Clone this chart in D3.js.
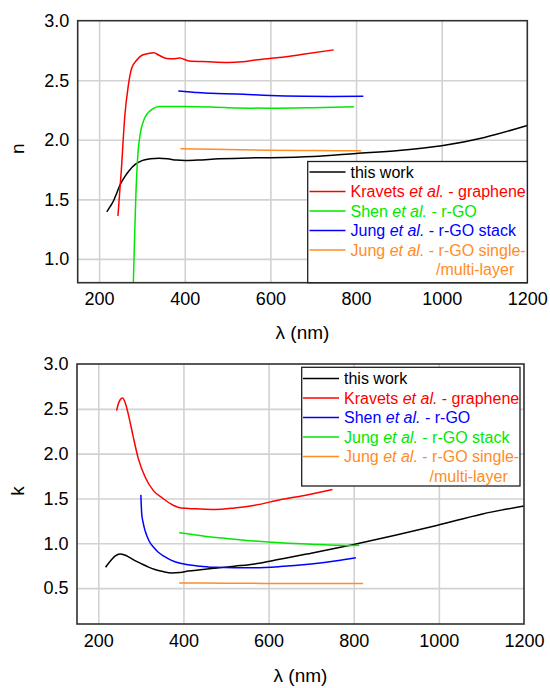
<!DOCTYPE html>
<html>
<head>
<meta charset="utf-8">
<script src="https://cdn.jsdelivr.net/npm/d3@7"></script>
<style>
  body { margin: 0; background: #fff; }
  text { font-family: "Liberation Sans", Arial, sans-serif; }
</style>
</head>
<body>
<svg id="chart"></svg>
<script>
// wavelength (nm) vs value
const nThisWork = [[218,1.395],[226,1.44],[234,1.49],[242,1.56],[250,1.63],[260,1.69],[270,1.74],[285,1.795],[300,1.825],[320,1.84],[340,1.845],[360,1.84],[380,1.83],[400,1.826],[430,1.83],[480,1.84],[550,1.848],[600,1.85],[700,1.86],[800,1.885],[900,1.91],[1000,1.95],[1100,2.02],[1200,2.12]];
const nKravets = [[244,1.36],[252,1.75],[260,2.2],[268,2.45],[276,2.6],[288,2.67],[300,2.71],[315,2.725],[328,2.73],[340,2.71],[358,2.682],[372,2.68],[388,2.686],[410,2.662],[455,2.655],[500,2.65],[535,2.655],[565,2.67],[620,2.69],[680,2.72],[748,2.755]];
const nShen = [[280,0.8],[283,1.2],[286,1.55],[290,1.85],[296,2.05],[305,2.17],[315,2.23],[325,2.26],[340,2.28],[400,2.28],[500,2.27],[600,2.265],[700,2.27],[795,2.278]];
const nJungStack = [[385,2.41],[420,2.40],[460,2.39],[520,2.385],[600,2.372],[680,2.366],[740,2.364],[817,2.365]];
const nJungSingle = [[390,1.925],[500,1.918],[600,1.912],[700,1.91],[812,1.908]];

const kThisWork = [[217,0.733],[230,0.81],[240,0.86],[251,0.882],[262,0.87],[270,0.852],[285,0.81],[302,0.77],[318,0.735],[333,0.707],[352,0.685],[372,0.67],[392,0.675],[411,0.69],[440,0.705],[474,0.722],[520,0.745],[568,0.77],[603,0.80],[700,0.89],[800,0.987],[900,1.093],[995,1.199],[1100,1.325],[1200,1.415]];
const kKravets = [[243,2.48],[249,2.58],[257,2.62],[263,2.57],[270,2.45],[282,2.19],[294,1.945],[310,1.74],[329,1.59],[352,1.50],[376,1.425],[394,1.393],[430,1.385],[474,1.378],[520,1.395],[568,1.425],[627,1.485],[690,1.54],[750,1.60]];
const kShen = [[300,1.54],[302,1.33],[305,1.24],[310,1.14],[320,1.02],[330,0.955],[341,0.90],[355,0.855],[372,0.81],[390,0.78],[411,0.76],[440,0.745],[474,0.732],[520,0.728],[568,0.728],[627,0.74],[700,0.77],[760,0.805],[805,0.838]];
const kJungStack = [[390,1.117],[450,1.08],[500,1.055],[568,1.025],[627,1.005],[700,0.99],[760,0.978],[790,0.975],[813,0.978]];
const kJungSingle = [[390,0.558],[500,0.555],[650,0.552],[822,0.551]];

const xTicks = [200, 400, 600, 800, 1000, 1200];
const nTicks = [1.0, 1.5, 2.0, 2.5, 3.0];
const kTicks = [0.5, 1.0, 1.5, 2.0, 2.5, 3.0];

// legend labels: [before, italic, after]
const nLabels = [['this work','',''],['Kravets ','et al.',' - graphene'],['Shen ','et al.',' - r-GO'],['Jung ','et al.',' - r-GO stack'],['Jung ','et al.',' - r-GO single-']];
const kLabels = [['this work','',''],['Kravets ','et al.',' - graphene'],['Shen ','et al.',' - r-GO'],['Jung ','et al.',' - r-GO stack'],['Jung ','et al.',' - r-GO single-']];

const BLACK = '#000000', RED = '#ff0000', GREEN = '#00e800', BLUE = '#0000ff', ORANGE = '#ff8c26';

const width = 550, height = 688;
const svg = d3.select('#chart').attr('width', width).attr('height', height);

function drawPanel(o) {
  let x = d3.scaleLinear().domain([150, 1200]).range([o.x0, o.x1]);
  let y = d3.scaleLinear().domain(o.yDomain).range([o.y1, o.y0]);
  let g = svg.append('g');
  let h = o.y1 - o.y0, w = o.x1 - o.x0;

  // grid
  let gx = g.append('g').attr('transform', `translate(0,${o.y1})`)
    .call(d3.axisBottom(x).tickValues(xTicks.slice(0, -1)).tickSize(-h).tickFormat(''));
  let gy = g.append('g').attr('transform', `translate(${o.x0},0)`)
    .call(d3.axisLeft(y).tickValues(o.yTicks.slice(0, -1)).tickSize(-w).tickFormat(''));
  [gx, gy].forEach(a => {
    a.select('.domain').remove();
    a.selectAll('line').attr('stroke', '#d2d2d2').attr('stroke-width', 1.6);
  });

  // tick labels
  let lx = g.append('g').attr('transform', `translate(0,${o.y1})`)
    .call(d3.axisBottom(x).tickValues(xTicks).tickSize(0).tickPadding(10).tickFormat(d3.format('d')));
  let ly = g.append('g').attr('transform', `translate(${o.x0},0)`)
    .call(d3.axisLeft(y).tickValues(o.yTicks).tickSize(0).tickPadding(8.5).tickFormat(d3.format('.1f')));
  [lx, ly].forEach(a => {
    a.select('.domain').remove();
    a.selectAll('text').attr('font-size', 18).attr('fill', '#000')
      .style('font-family', '"Liberation Sans", Arial, sans-serif');
  });

  // series
  let clipId = 'clip' + o.id;
  svg.append('clipPath').attr('id', clipId).append('rect')
    .attr('x', o.x0).attr('y', o.y0).attr('width', w).attr('height', h);
  let line = d3.line().x(d => x(d[0])).y(d => y(d[1])).curve(d3.curveMonotoneX);
  let sg = g.append('g').attr('clip-path', `url(#${clipId})`);
  o.series.forEach(s => {
    sg.append('path').datum(s.data)
      .attr('d', line).attr('fill', 'none')
      .attr('stroke', s.color).attr('stroke-width', 1.5);
  });

  // frame
  g.append('rect').attr('x', o.x0).attr('y', o.y0).attr('width', w).attr('height', h)
    .attr('fill', 'none').attr('stroke', '#303030').attr('stroke-width', 1.6);

  // axis titles
  g.append('text').attr('x', (o.x0 + o.x1) / 2).attr('y', o.y1 + o.titleDy)
    .attr('text-anchor', 'middle').attr('font-size', 19).text('\u03bb (nm)');
  g.append('text').attr('transform', `translate(24,${(o.y0 + o.y1) / 2 - 3}) rotate(-90)`)
    .attr('text-anchor', 'middle').attr('font-size', 19).text(o.yLabel);

  // legend
  let L = o.legend;
  let lg = g.append('g');
  lg.append('rect').attr('x', L.x0).attr('y', L.y0).attr('width', L.x1 - L.x0).attr('height', L.y1 - L.y0)
    .attr('fill', '#fff').attr('stroke', '#202020').attr('stroke-width', 1.3);
  o.labels.forEach((lab, i) => {
    let ry = L.row0 + i * L.dy;
    let col = o.series[i].color;
    lg.append('line').attr('x1', L.lx0).attr('x2', L.lx1).attr('y1', ry).attr('y2', ry)
      .attr('stroke', col).attr('stroke-width', 1.5);
    let t = lg.append('text').attr('x', L.tx).attr('y', ry + 5.5).attr('font-size', 16).attr('fill', col);
    t.append('tspan').text(lab[0]);
    if (lab[1]) t.append('tspan').attr('font-style', 'italic').text(lab[1]);
    if (lab[2]) t.append('tspan').text(lab[2]);
  });
  lg.append('text').attr('x', L.contX).attr('y', L.row0 + 5 * L.dy + 5.5)
    .attr('font-size', 16).attr('fill', o.series[4].color).text('/multi-layer');
}

drawPanel({
  id: 'n', x0: 77.7, x1: 527.3, y0: 20.7, y1: 282.7,
  yDomain: [0.8, 3.0], yTicks: nTicks, yLabel: 'n', titleDy: 56,
  series: [
    {data: nThisWork, color: BLACK},
    {data: nKravets, color: RED},
    {data: nShen, color: GREEN},
    {data: nJungStack, color: BLUE},
    {data: nJungSingle, color: ORANGE}
  ],
  labels: nLabels,
  legend: {x0: 307.7, x1: 527.3, y0: 161.5, y1: 282.7, lx0: 309.5, lx1: 345.5, tx: 350.5, row0: 172, dy: 19.5, contX: 436}
});

drawPanel({
  id: 'k', x0: 77, x1: 524, y0: 364, y1: 624,
  yDomain: [0.1, 3.0], yTicks: kTicks, yLabel: 'k', titleDy: 58,
  series: [
    {data: kThisWork, color: BLACK},
    {data: kKravets, color: RED},
    {data: kShen, color: BLUE},
    {data: kJungStack, color: GREEN},
    {data: kJungSingle, color: ORANGE}
  ],
  labels: kLabels,
  legend: {x0: 301.7, x1: 520, y0: 367.3, y1: 486, lx0: 303, lx1: 339, tx: 344, row0: 378.5, dy: 19.5, contX: 429.5}
});
</script>
</body>
</html>
